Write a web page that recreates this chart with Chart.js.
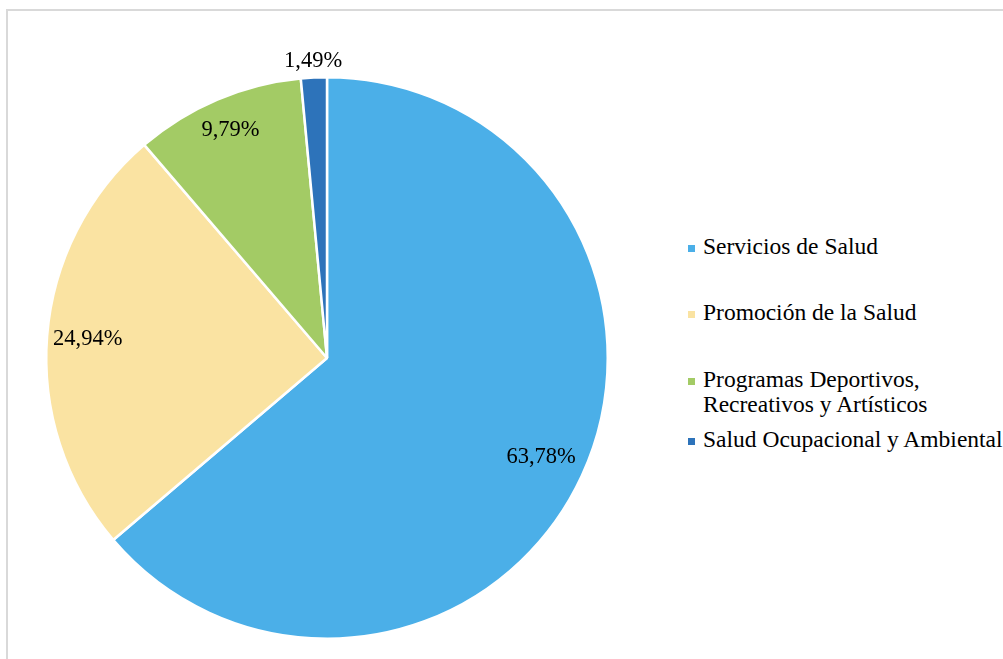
<!DOCTYPE html>
<html>
<head>
<meta charset="utf-8">
<script src="https://cdn.jsdelivr.net/npm/chart.js@4"></script>
<style>
  html, body { margin: 0; padding: 0; background: #fff; overflow: hidden; }
  body { width: 1003px; height: 659px; position: relative; font-family: "Liberation Serif", "Times New Roman", serif; }
  .frame { position: absolute; left: 6px; top: 9px; width: 1100px; height: 800px; border: 2px solid #d9d9d9; }
  #pie { position: absolute; left: 0; top: 0; }
  .legend-item { position: absolute; left: 688px; font-size: 23.5px; line-height: 25px; color: #000; white-space: nowrap; }
  .legend-item .box { position: absolute; left: 0; width: 7px; height: 7px; }
  .legend-item .txt { position: absolute; left: 15px; top: 0; }
</style>
</head>
<body>
<div class="frame"></div>
<canvas id="pie" width="654" height="716"></canvas>
<div id="legend"></div>
<script>
// ── Data ────────────────────────────────────────────────────
const categories = [
  "Servicios de Salud",
  "Promoción de la Salud",
  "Programas Deportivos,\nRecreativos y Artísticos",
  "Salud Ocupacional y Ambiental",
];
const percentages = [63.78, 24.94, 9.79, 1.49];
const colors = ["#4bafe8", "#fae3a2", "#a3cb65", "#2d73ba"];

// label distance from centre, as a fraction of the radius (Excel "best fit")
const labelRadius = [0.84, 0.855, 0.88, 1.06];
// legend rows (top of each text block, px)
const legendTops = [234, 300, 367, 427];

// ── Data labels ─────────────────────────────────────────────
const pieLabels = {
  id: "pieLabels",
  afterDatasetsDraw(chart) {
    const ctx = chart.ctx;
    const meta = chart.getDatasetMeta(0);
    ctx.save();
    ctx.font = '22.5px "Liberation Serif", "Times New Roman", serif';
    ctx.fillStyle = "#000";
    ctx.textAlign = "center";
    ctx.textBaseline = "middle";
    meta.data.forEach((arc, i) => {
      const p = arc.getProps(["x", "y", "startAngle", "endAngle", "outerRadius"], true);
      const mid = (p.startAngle + p.endAngle) / 2;
      const r = p.outerRadius * labelRadius[i];
      const text = percentages[i].toFixed(2).replace(".", ",") + "%";
      ctx.fillText(text, p.x + Math.cos(mid) * r, p.y + Math.sin(mid) * r);
    });
    ctx.restore();
  },
};

new Chart(document.getElementById("pie"), {
  type: "pie",
  data: {
    labels: categories,
    datasets: [{
      data: percentages,
      backgroundColor: colors,
      borderColor: "#ffffff",
      borderWidth: 2.5,
    }],
  },
  options: {
    responsive: false,
    animation: false,
    layout: { padding: 45 },
    plugins: {
      legend: { display: false },
      tooltip: { enabled: false },
    },
  },
  plugins: [pieLabels],
});

// ── Legend ──────────────────────────────────────────────────
const legendEl = document.getElementById("legend");
categories.forEach((cat, i) => {
  const item = document.createElement("div");
  item.className = "legend-item";
  item.style.top = legendTops[i] + "px";
  const box = document.createElement("span");
  box.className = "box";
  box.style.background = colors[i];
  box.style.top = "11px";
  const txt = document.createElement("span");
  txt.className = "txt";
  txt.innerHTML = cat.split("\n").join("<br>");
  item.appendChild(box);
  item.appendChild(txt);
  legendEl.appendChild(item);
});
</script>
</body>
</html>
